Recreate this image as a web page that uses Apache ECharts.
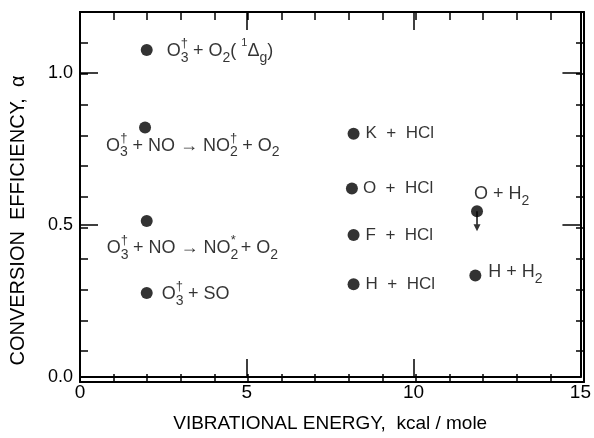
<!DOCTYPE html>
<html>
<head>
<meta charset="utf-8">
<script src="https://cdn.jsdelivr.net/npm/echarts@6/dist/echarts.min.js"></script>
<style>
  html, body { margin: 0; padding: 0; background: #fff; }
  #chart { width: 594px; height: 438px; }
</style>
</head>
<body>
<div id="chart"></div>
<script>
// vibrational energy (kcal/mole) and conversion efficiency
let energy = [2.0, 1.95, 2.0, 2.0, 8.2, 8.15, 8.2, 8.2, 11.9, 11.85];
let alpha  = [1.075, 0.82, 0.513, 0.276, 0.80, 0.62, 0.467, 0.305, 0.545, 0.334];
let reactions = [
  'O{z|3}{d|\u2020} + O{s|2}( {u|1}\u0394{s|g})',
  'O{z|3}{d|\u2020} + NO \u2192 NO{z|2}{d|\u2020} + O{s|2}',
  'O{z|3}{d|\u2020} + NO \u2192 NO{z|2}{d|*} + O{s|2}',
  'O{z|3}{d|\u2020} + SO',
  'K  +  HCl',
  'O  +  HCl',
  'F  +  HCl',
  'H  +  HCl',
  'O + H{s|2}',
  'H + H{s|2}'
];
// O + H2 is an upper limit (arrow pointing down)
let upperLimit = [[11.9, 0.545]];

// where each label sits relative to its point: [dx to text left, dy to text middle]
let labelOffset = [[20, 1], [-39, 18], [-40, 27], [15, 1], [12, 0], [11, 0], [12, 0], [12, 0], [-3, -17], [13, -3]];
let labelSize = [18, 18, 18, 18, 17, 17, 17, 17, 18, 18];

const FONT = "'Liberation Sans', Arial, sans-serif";
const rich = {
  s: { fontSize: 14, fontFamily: FONT, color: '#000', verticalAlign: 'bottom', lineHeight: 13 },
  z: { fontSize: 14, fontFamily: FONT, color: '#000', verticalAlign: 'bottom', lineHeight: 13, width: 0.1 },
  d: { fontSize: 13, fontFamily: FONT, color: '#000', verticalAlign: 'top', lineHeight: 12 },
  u: { fontSize: 11, fontFamily: FONT, color: '#000', verticalAlign: 'top', lineHeight: 12 }
};

let pts = energy.map((e, i) => ({
  value: [e, alpha[i]],
  label: {
    show: true,
    formatter: reactions[i],
    position: 'inside',
    align: 'left',
    verticalAlign: 'middle',
    offset: labelOffset[i],
    fontSize: labelSize[i],
    fontFamily: FONT,
    color: '#000',
    lineHeight: 28,
    rich: rich
  }
}));

function xAx(grid, pos, major, showLabel) {
  return {
    type: 'value', gridIndex: grid, position: pos, min: 0, max: 15, interval: major ? 5 : 1,
    axisLine: { show: true, onZero: false, lineStyle: { color: '#000', width: 2 } },
    axisTick: { show: true, inside: true, length: major ? 18 : 8, lineStyle: { color: '#000', width: 1.5 } },
    axisLabel: { show: showLabel, margin: 6, fontSize: 19, fontFamily: FONT, color: '#000' },
    splitLine: { show: false }
  };
}
function yAx(grid, pos, major, showLabel) {
  return {
    type: 'value', gridIndex: grid, position: pos, min: 0, max: 1.2, interval: major ? 0.5 : 0.1,
    axisLine: { show: true, onZero: false, lineStyle: { color: '#000', width: 2 } },
    axisTick: { show: true, inside: true, length: major ? 18 : 8, lineStyle: { color: '#000', width: 1.5 } },
    axisLabel: {
      show: showLabel, margin: 7, fontSize: 18, fontFamily: FONT, color: '#000',
      showMaxLabel: false,
      formatter: v => (v > 1.1 ? '' : v.toFixed(1))
    },
    splitLine: { show: false }
  };
}

// grid 0 carries the major ticks and the data, grid 1 (same box) the minor ticks
let xAxes = [xAx(0, 'bottom', true, true), xAx(0, 'top', true, false), xAx(1, 'bottom', false, false), xAx(1, 'top', false, false)];
xAxes[0].name = 'VIBRATIONAL ENERGY,  kcal / mole';
xAxes[0].nameLocation = 'middle';
xAxes[0].nameGap = 37;
xAxes[0].nameTextStyle = { fontSize: 19, fontFamily: FONT, color: '#000' };

let yAxes = [yAx(0, 'left', true, true), yAx(0, 'right', true, false), yAx(1, 'left', false, false), yAx(1, 'right', false, false)];
yAxes[0].name = 'CONVERSION  EFFICIENCY,  \u03b1';
yAxes[0].nameLocation = 'middle';
yAxes[0].nameGap = 52;
yAxes[0].nameTextStyle = { fontSize: 20, fontFamily: FONT, color: '#000', padding: [0, 52, 0, 0] };

let myChart = echarts.init(document.getElementById('chart'));
let box = { left: 80, right: 10, top: 12, bottom: 56 };
let option = {
  animation: false,
  backgroundColor: '#fff',
  grid: [Object.assign({}, box), Object.assign({}, box)],
  xAxis: xAxes,
  yAxis: yAxes,
  series: [
    {
      name: 'efficiency',
      type: 'scatter',
      symbol: 'circle',
      symbolSize: 12,
      itemStyle: { color: '#000' },
      data: pts,
      z: 3
    },
    {
      name: 'upper limit',
      type: 'scatter',
      symbol: 'path://M4,0 L6,0 L6,13 L9,13 L5,20 L1,13 L4,13 Z',
      symbolSize: [7, 20],
      symbolOffset: [0, 10],
      itemStyle: { color: '#000' },
      data: upperLimit,
      z: 2
    }
  ]
};
myChart.setOption(option);
</script>
</body>
</html>
